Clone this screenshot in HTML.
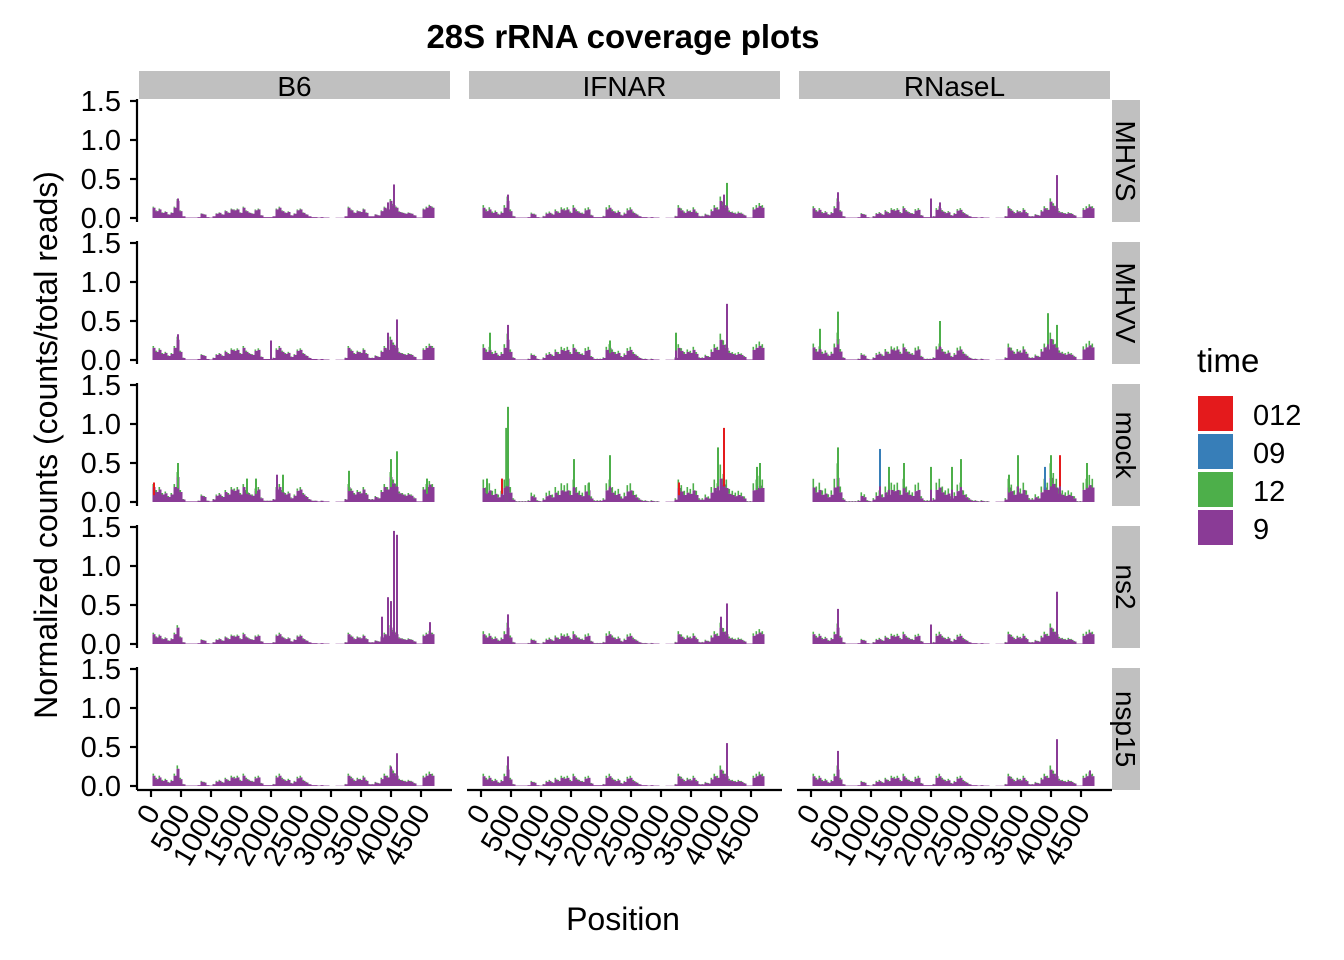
<!DOCTYPE html>
<html><head><meta charset="utf-8">
<style>
html,body{margin:0;padding:0;background:#fff;}
svg{display:block;font-family:"Liberation Sans",Arial,sans-serif;}
</style></head>
<body>
<svg id="chart" width="1344" height="960" viewBox="0 0 1344 960" xmlns="http://www.w3.org/2000/svg">
<text x="623" y="48" text-anchor="middle" font-size="33" font-weight="bold">28S rRNA coverage plots</text>
<text transform="translate(57,445) rotate(-90)" text-anchor="middle" font-size="32">Normalized counts (counts/total reads)</text>
<text x="623" y="930" text-anchor="middle" font-size="32">Position</text>
<g id="legend">
<text x="1197" y="372" font-size="33">time</text>
</g>
<g id="plots"></g>
</svg>
<script>
const columns = ["B6","IFNAR","RNaseL"];
const rows = ["MHVS","MHVV","mock","ns2","nsp15"];
const seriesNames = ["012","09","12","9"];
const seriesColors = {"012":"#e41a1c","09":"#377eb8","12":"#4daf4a","9":"#8a3b96"};
const yTicks = [0,0.5,1.0,1.5];
const yTickLabels = ["0.0","0.5","1.0","1.5"];
const xTicks = [0,500,1000,1500,2000,2500,3000,3500,4000,4500];
const binPositions = [50,100,150,200,250,300,350,400,450,500,550,600,650,700,750,800,850,900,950,1000,1050,1100,1150,1200,1250,1300,1350,1400,1450,1500,1550,1600,1650,1700,1750,1800,1850,1900,1950,2000,2050,2100,2150,2200,2250,2300,2350,2400,2450,2500,2550,2600,2650,2700,2750,2800,2850,2900,2950,3000,3050,3100,3150,3200,3250,3300,3350,3400,3450,3500,3550,3600,3650,3700,3750,3800,3850,3900,3950,4000,4050,4100,4150,4200,4250,4300,4350,4400,4450,4500,4550,4600,4650,4700];
const baseProfile = [0.12,0.08,0.1,0.06,0.07,0.04,0.06,0.12,0.2,0.08,0.02,0.005,0.005,0.005,0.005,0.01,0.05,0.04,0.01,0.005,0.02,0.05,0.06,0.04,0.08,0.06,0.1,0.09,0.1,0.06,0.12,0.08,0.06,0.05,0.09,0.1,0.03,0.01,0.01,0.01,0.02,0.1,0.12,0.08,0.06,0.07,0.03,0.05,0.09,0.1,0.06,0.04,0.02,0.01,0.01,0.005,0.01,0.005,0.005,0,0,0.003,0.003,0.003,0.02,0.12,0.09,0.06,0.08,0.07,0.1,0.06,0.02,0.02,0.04,0.03,0.08,0.12,0.1,0.2,0.15,0.12,0.07,0.06,0.05,0.06,0.05,0.03,0.005,0.005,0.1,0.12,0.14,0.12];
const panelScale = [1.1,1.1,1.05, 1.3,1.3,1.35, 1.6,1.5,1.55, 1.05,1.05,1.05, 1.1,1.05,1.05];
const panelGreen = [0.1,0.25,0.2, 0.15,0.3,0.3, 0.2,0.6,0.6, 0.15,0.3,0.25, 0.2,0.25,0.25];
const panelPeaks = [
 [[450,0.25,"9"],[4050,0.43,"9"],[3950,0.2,"9"]],
 [[450,0.3,"9"],[4100,0.45,"12"],[4050,0.3,"9"]],
 [[450,0.33,"9"],[2000,0.25,"9"],[4100,0.55,"9"],[2150,0.2,"9"]],
 [[450,0.33,"9"],[4100,0.52,"9"],[3950,0.35,"9"],[2000,0.25,"9"]],
 [[450,0.45,"9"],[150,0.35,"12"],[4100,0.72,"9"],[3250,0.35,"12"],[2150,0.25,"12"]],
 [[450,0.62,"12"],[150,0.4,"12"],[2150,0.5,"12"],[3950,0.6,"12"],[4100,0.45,"12"]],
 [[450,0.5,"12"],[4100,0.65,"12"],[4000,0.55,"12"],[2100,0.35,"9"],[2200,0.35,"12"],[1600,0.3,"12"],[1750,0.3,"12"],[3300,0.4,"12"],[50,0.25,"012"],[4600,0.3,"12"]],
 [[450,1.22,"12"],[420,0.95,"12"],[350,0.3,"012"],[100,0.3,"12"],[1550,0.55,"12"],[2150,0.6,"12"],[3950,0.7,"12"],[4050,0.95,"012"],[4650,0.5,"12"],[4600,0.45,"12"],[3300,0.25,"012"],[1800,0.25,"12"]],
 [[450,0.7,"12"],[1150,0.68,"09"],[1300,0.45,"12"],[1550,0.5,"12"],[2000,0.45,"12"],[2500,0.55,"12"],[2350,0.45,"12"],[3450,0.6,"12"],[3900,0.45,"09"],[4000,0.6,"12"],[4150,0.6,"012"],[4600,0.5,"12"],[3300,0.35,"12"]],
 [[4050,1.45,"9"],[4100,1.4,"9"],[3950,0.6,"9"],[4000,0.55,"9"],[3850,0.35,"9"],[450,0.2,"9"],[4650,0.28,"9"]],
 [[450,0.38,"9"],[4100,0.52,"9"],[4000,0.35,"9"]],
 [[450,0.45,"9"],[4100,0.67,"9"],[2000,0.25,"9"]],
 [[4100,0.42,"9"],[450,0.22,"9"],[4000,0.25,"9"]],
 [[450,0.38,"9"],[4100,0.55,"9"]],
 [[450,0.45,"9"],[4100,0.6,"9"],[4650,0.2,"9"]]
];
const NS="http://www.w3.org/2000/svg";
const colLeft=[139,469,799], colW=311;
const rowTop0=100, rowStep=142, rowH=122;
function xScale(c,pos){return colLeft[c]+12+pos*0.06;}
function yScale(r,v){return 218+r*rowStep - v*78;}
function mk(tag,attrs,parent){const e=document.createElementNS(NS,tag);for(const k in attrs)e.setAttribute(k,attrs[k]);parent.appendChild(e);return e;}
const plots=document.getElementById('plots');
columns.forEach((name,c)=>{
  const g=mk('g',{},plots);
  
  
  mk('rect',{x:colLeft[c],y:71,width:colW,height:28,fill:'#c0c0c0'},g);
  const t=mk('text',{x:colLeft[c]+colW/2,y:96,'text-anchor':'middle','font-size':28},g);t.textContent=name;
});
rows.forEach((name,r)=>{
  const g=mk('g',{},plots);
  
  
  const y0=rowTop0+r*rowStep;
  mk('rect',{x:1112,y:y0,width:28,height:rowH,fill:'#c0c0c0'},g);
  const t=mk('text',{transform:`translate(1116,${y0+rowH/2}) rotate(90)`,'text-anchor':'middle','font-size':28},g);t.textContent=name;
});
rows.forEach((name,r)=>{
  const g=mk('g',{},plots);
  
  
  mk('line',{x1:137,x2:137,y1:yScale(r,1.5)-2,y2:yScale(r,0)+4,stroke:'#000','stroke-width':2.2},g);
  yTicks.forEach((v,i)=>{
    const y=yScale(r,v);
    mk('line',{x1:130,x2:137,y1:y,y2:y,stroke:'#000','stroke-width':2.2},g);
    const t=mk('text',{x:121,y:y+10,'text-anchor':'end','font-size':29},g);t.textContent=yTickLabels[i];
  });
});
columns.forEach((name,c)=>{
  const g=mk('g',{},plots);
  
  
  mk('line',{x1:colLeft[c]-2,x2:colLeft[c]+colW+2,y1:790,y2:790,stroke:'#000','stroke-width':2.2},g);
  xTicks.forEach(v=>{
    const x=xScale(c,v);
    mk('line',{x1:x,x2:x,y1:790,y2:797,stroke:'#000','stroke-width':2.2},g);
    const t=mk('text',{transform:`translate(${x+10},${812}) rotate(-60)`,'text-anchor':'end','font-size':29},g);t.textContent=String(v);
  });
});
rows.forEach((rn,r)=>{columns.forEach((cn,c)=>{
  const p=r*3+c;
  const g=mk('g',{},plots);
  
  
  binPositions.forEach((pos,i)=>{
    const v=baseProfile[i]*panelScale[p];
    if(v<=0)return;
    const gv=v*panelGreen[p];
    const x=xScale(c,pos)-1.5;
    const bar=mk('rect',{x:x,y:yScale(r,v),width:3,height:v*78,fill:seriesColors["9"]},g);
    
    
    if(gv>0.003){
      const gb=mk('rect',{x:x,y:yScale(r,v+gv),width:1.6,height:gv*78,fill:seriesColors["12"]},g);
      
      
    }
  });
  panelPeaks[p].forEach(pk=>{
    const x=xScale(c,pk[0]);
    const pb=mk('rect',{x:x-1,y:yScale(r,pk[1]),width:2,height:pk[1]*78,fill:seriesColors[pk[2]]},g);
    
    
    if(pk[2]!=="9"){
      const lo=Math.min(pk[1]*0.35,0.2);
      const ub=mk('rect',{x:x-1,y:yScale(r,lo),width:2,height:lo*78,fill:seriesColors["9"]},g);
      
      
    }
  });
});});
const lg=document.getElementById('legend');
seriesNames.forEach((s,i)=>{
  const y=396+i*38;
  const r=mk('rect',{x:1198,y:y,width:35,height:35,fill:seriesColors[s]},lg);
  
  
  const t=mk('text',{x:1253,y:y+29,'font-size':29},lg);t.textContent=s;
  
  
});
</script>
</body></html>
